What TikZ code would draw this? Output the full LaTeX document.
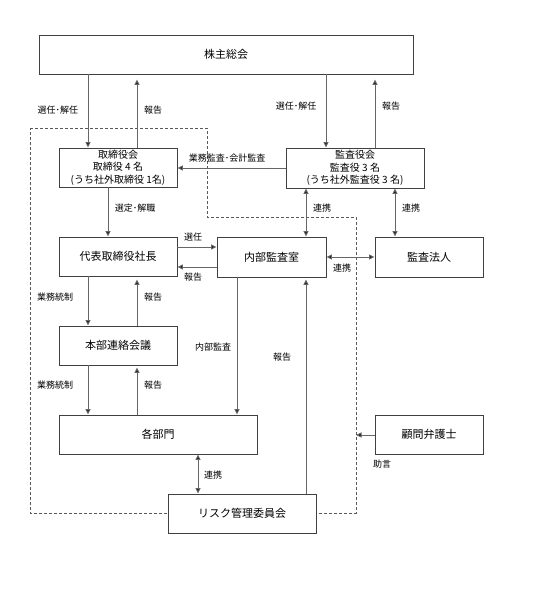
\documentclass[tikz,border=0pt]{standalone}
\usepackage{fontspec}
\setmainfont{Noto Sans CJK JP}
\usetikzlibrary{arrows.meta}
\tikzset{
  box/.style={draw=black!75, line width=0.9pt, fill=white, inner sep=0pt, align=center, font=\fontsize{11}{12.5}\selectfont},
  box3/.style={box, font=\fontsize{10}{12.5}\selectfont},
  lbl/.style={inner sep=0pt, font=\fontsize{9}{10}\selectfont},
  conn/.style={draw=black!60, line width=1pt},
  arr/.style={conn, -{Triangle[length=5.5pt,width=5pt,fill=black]}},
  darr/.style={conn, {Triangle[length=5.5pt,width=5pt,fill=black]}-{Triangle[length=5.5pt,width=5pt,fill=black]}},
  frame/.style={draw=black!65, line width=0.8pt, dash pattern=on 3pt off 2pt}
}
\begin{document}
\begin{tikzpicture}[x=1pt,y=-1pt]
\useasboundingbox (0,0) rectangle (533,603);
% dashed boundary
\draw[frame] (30,128) -- (207,128) -- (207,217) -- (356,217) -- (356,513) -- (30,513) -- cycle;
% column / row helper coordinates
\coordinate (xA) at (88,0);
\coordinate (xB) at (137,0);
\coordinate (xC) at (108,0);
\coordinate (xD) at (326,0);
\coordinate (xE) at (375,0);
\coordinate (xF) at (306,0);
\coordinate (xG) at (395,0);
\coordinate (xH) at (237,0);
\coordinate (xI) at (198,0);
\coordinate (yA) at (0,168);
\coordinate (yB) at (0,247);
\coordinate (yC) at (0,267);
\coordinate (yD) at (0,257);
\coordinate (yE) at (0,435);
\coordinate (adv) at (356,435);
% boxes
\node[box, minimum width=374pt, minimum height=39pt] (sh) at (226,54.5) {株主総会};
\node[box3, minimum width=118pt, minimum height=39pt] (tb) at (118,167.5) {取締役会\\取締役 4 名\\(うち社外取締役 1名)};
\node[box3, minimum width=138pt, minimum height=40pt] (ka) at (355,168) {監査役会\\監査役 3 名\\(うち社外監査役 3 名)};
\node[box, minimum width=118pt, minimum height=39pt] (dh) at (118,256.5) {代表取締役社長};
\node[box, minimum width=109pt, minimum height=40pt] (nai) at (271.5,257) {内部監査室};
\node[box, minimum width=108pt, minimum height=40pt] (hj) at (429,257) {監査法人};
\node[box, minimum width=118pt, minimum height=39pt] (hb) at (118,345.5) {本部連絡会議};
\node[box, minimum width=198pt, minimum height=39pt] (kb) at (158,434.5) {各部門};
\node[box, minimum width=108pt, minimum height=39pt] (km) at (429,434.5) {顧問弁護士};
\node[box, minimum width=148pt, minimum height=39pt] (rk) at (242,513.5) {リスク管理委員会};
% connectors
\draw[arr] (sh.south -| xA) -- (tb.north -| xA);
\draw[arr, shorten >=5pt] (tb.north -| xB) -- (sh.south -| xB);
\draw[arr] (sh.south -| xD) -- (ka.north -| xD);
\draw[arr, shorten >=5pt] (ka.north -| xE) -- (sh.south -| xE);
\draw[arr] (ka.west |- yA) -- (tb.east |- yA);
\draw[arr] (tb.south -| xC) -- (dh.north -| xC);
\draw[darr] (ka.south -| xF) -- (nai.north -| xF);
\draw[darr] (ka.south -| xG) -- (hj.north -| xG);
\draw[arr] (dh.east |- yB) -- (nai.west |- yB);
\draw[arr] (nai.west |- yC) -- (dh.east |- yC);
\draw[darr] (nai.east |- yD) -- (hj.west |- yD);
\draw[arr] (dh.south -| xA) -- (hb.north -| xA);
\draw[arr, shorten >=3pt] (hb.north -| xB) -- (dh.south -| xB);
\draw[arr] (hb.south -| xA) -- (kb.north -| xA);
\draw[arr, shorten >=2pt] (kb.north -| xB) -- (hb.south -| xB);
\draw[arr] (nai.south -| xH) -- (kb.north -| xH);
\draw[arr, shorten >=2pt] (rk.north -| xF) -- (nai.south -| xF);
\draw[darr] (kb.south -| xI) -- (rk.north -| xI);
\draw[arr] (km.west |- yE) -- (adv);
% labels
\node[lbl] (l1) at (58,110) {選任･解任};
\node[lbl] (l2) at (153,110) {報告};
\node[lbl] (l3) at (296,106) {選任･解任};
\node[lbl] (l4) at (391,106) {報告};
\node[lbl] (l5) at (227,158) {業務監査･会計監査};
\node[lbl] (l6) at (135,208) {選定･解職};
\node[lbl] (l7) at (322,208) {連携};
\node[lbl] (l8) at (411,208) {連携};
\node[lbl] (l9) at (193,237) {選任};
\node[lbl] (l10) at (193,277) {報告};
\node[lbl] (l11) at (342,268) {連携};
\node[lbl] (l12) at (55,297) {業務統制};
\node[lbl] (l13) at (153,297) {報告};
\node[lbl] (l14) at (213,347) {内部監査};
\node[lbl] (l15) at (282,357) {報告};
\node[lbl] (l16) at (55,385) {業務統制};
\node[lbl] (l17) at (153,385) {報告};
\node[lbl] (l18) at (382,464) {助言};
\node[lbl] (l19) at (213,475) {連携};
\end{tikzpicture}
\end{document}
